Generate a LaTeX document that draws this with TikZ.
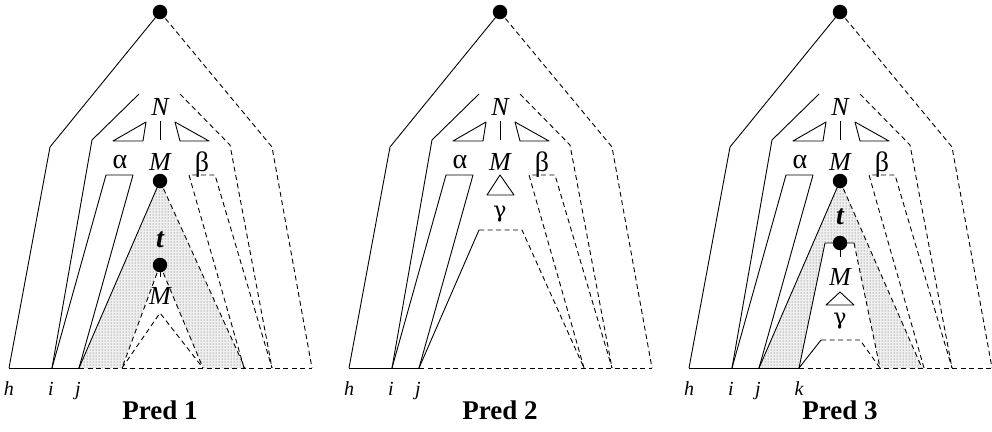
\documentclass[tikz,border=0pt]{standalone}
\usepackage{fontspec}
\setmainfont{Liberation Serif}
\newfontfamily\grkfont{DejaVu Serif}
\usetikzlibrary{patterns}
\tikzset{
  ln/.style={line width=0.9pt, line join=round},
  dsh/.style={ln, dash pattern=on 5pt off 3.5pt},
  dotfill/.style={pattern=dots, pattern color=black!70},
  shadebase/.style={fill=black!6},
  bigdot/.style={circle, fill=black, inner sep=0pt, minimum size=14.5pt},
  lbl/.style={inner sep=0pt, font=\fontsize{26}{28}\selectfont\itshape},
  tlbl/.style={inner sep=0pt, font=\fontsize{28}{30}\selectfont\itshape\bfseries},
  grk/.style={inner sep=0pt, font=\fontsize{28}{30}\selectfont},
  gmm/.style={inner sep=0pt, font=\fontsize{22}{24}\selectfont\grkfont},
  idx/.style={inner sep=0pt, font=\fontsize{20}{22}\selectfont\itshape},
  ttl/.style={inner sep=0pt, font=\fontsize{27}{29}\selectfont\bfseries},
}
% common skeleton of one panel; #1 = name prefix, #2 = end of solid base line
\newcommand{\skel}[2]{%
  \node[bigdot] (#1root) at (160,12) {};
  \draw[ln] (9,368) -- (50,147) -- (#1root.center);
  \draw[dsh] (#1root.center) -- (272,147) -- (312,368);
  \draw[ln] (52,368) -- (92,140) -- (139,94);
  \draw[dsh] (180,94) -- (230,145) -- (272,368);
  \node[lbl] (#1N) at (160,107) {N};
  \node[lbl] (#1M) at (160,162) {M};
  \draw[ln] (160,121) -- (160,140);
  \draw[ln] (113,141) -- (146,122) -- (143,141) -- cycle;
  \draw[ln] (175,122) -- (180,141) -- (209,141) -- cycle;
  \node[grk] (#1alpha) at (120,162) {α};
  \node[grk] (#1beta) at (202,165) {β};
  \draw[ln] (52,368) -- (106,175) -- (133,175) -- (79,368);
  \draw[dsh] (244,368) -- (189,175) -- (215,175) -- (272,368);
  \draw[ln] (9,368) -- (#2,368);
  \draw[dsh] (#2,368) -- (312,368);
  \node[idx] (#1h) at (9,389) {h};
  \node[idx] (#1i) at (51,389) {i};
  \node[idx] (#1j) at (78,391) {j};
}
\newcommand{\shadeA}{(160,181) -- (79,368) -- (245,368) -- cycle
        (160,265) -- (203,368) -- (122,368) -- cycle}
\newcommand{\shadeC}{(160,181) -- (79,368) -- (242,368) -- cycle
        (145,243) -- (174,243) -- (200,368) -- (119,368) -- cycle}
\begin{document}
\begin{tikzpicture}[x=1pt,y=-1pt]
\useasboundingbox (0,0) rectangle (992,431);
% ---------------- Pred 1
\begin{scope}
  \fill[shadebase, even odd rule] \shadeA;
  \fill[dotfill, even odd rule] \shadeA;
  \skel{a}{79}
  \node[bigdot] (aMd) at (160,181) {};
  \draw[ln] (aMd.center) -- (79,368);
  \draw[dsh] (aMd.center) -- (245,368);
  \node[tlbl] (at) at (160,240) {t};
  \node[bigdot] (afoot) at (160,265) {};
  \draw[ln] (afoot.center) -- (160,277);
  \draw[dsh] (afoot.center) -- (122,368);
  \draw[dsh] (afoot.center) -- (203,368);
  \node[lbl] (aM2) at (160,296) {M};
  \draw[dsh] (122,368) -- (160,313) -- (203,368);
  \node[ttl] (atitle) at (160,410) {Pred 1};
\end{scope}
% ---------------- Pred 2
\begin{scope}[xshift=340pt]
  \skel{b}{79}
  \draw[ln] (160,175) -- (147,195) -- (174,195) -- cycle;
  \node[gmm] (bgamma) at (160,214) {γ};
  \draw[ln] (79,368) -- (139,230);
  \draw[dsh] (139,230) -- (182,230) -- (244,368);
  \node[ttl] (btitle) at (160,410) {Pred 2};
\end{scope}
% ---------------- Pred 3
\begin{scope}[xshift=680pt]
  \fill[shadebase, even odd rule] \shadeC;
  \fill[dotfill, even odd rule] \shadeC;
  \skel{c}{119}
  \node[bigdot] (cMd) at (160,181) {};
  \draw[ln] (cMd.center) -- (79,368);
  \draw[dsh] (cMd.center) -- (242,368);
  \node[tlbl] (ct) at (160,217) {t};
  \node[bigdot] (cfoot) at (160,243) {};
  \draw[ln] (119,368) -- (145,243) -- (174,243);
  \draw[dsh] (174,243) -- (200,368);
  \draw[ln] (cfoot.center) -- (160,257);
  \node[lbl] (cM2) at (160,277) {M};
  \draw[ln] (160,292) -- (146,305) -- (174,305) -- cycle;
  \node[gmm] (cgamma) at (160,321) {γ};
  \draw[ln] (119,368) -- (141,340);
  \draw[dsh] (141,340) -- (180,340) -- (200,368);
  \node[idx] (ck) at (119,389) {k};
  \node[ttl] (ctitle) at (160,410) {Pred 3};
\end{scope}
\end{tikzpicture}
\end{document}
